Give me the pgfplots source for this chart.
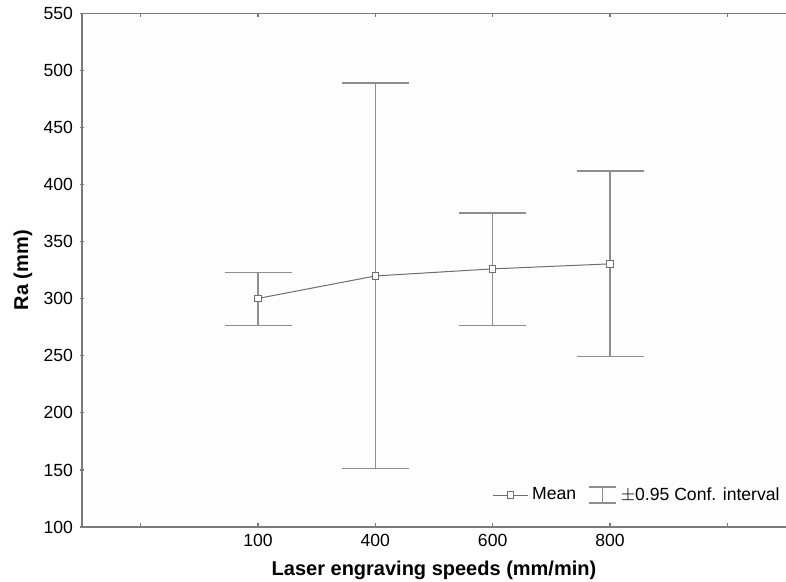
\documentclass[border=0pt]{standalone}
\usepackage{fontspec}
\setmainfont{Liberation Sans}
\usepackage{pgfplots}
\pgfplotsset{compat=1.18}
\definecolor{axGray}{HTML}{7A7A7A}
\definecolor{barGray}{HTML}{8E8E8E}
\definecolor{lineGray}{HTML}{6E6E6E}

\begin{document}
\begin{tikzpicture}
\begin{axis}[
  scale only axis,
  width=352pt, height=256.75pt,
  xmin=0.5, xmax=6.5,
  ymin=100, ymax=550,
  xtick={1,2,3,4,5,6},
  xticklabels={,100,400,600,800,},
  ytick={100,150,...,550},
  axis x line=box, axis y line=left,
  axis line style={-, axGray, line width=0.8pt},
  major tick length=2pt,
  tick style={axGray, line width=0.6pt},
  tick label style={font=\fontsize{8.8}{10}\selectfont},
  /pgf/number format/assume math mode=true,
  axis background/.style={fill=black!0.6},
  xlabel={\textbf{Laser engraving speeds (mm/min)}},
  ylabel={\textbf{Ra (mm)}},
  label style={font=\fontsize{8.8}{10}\selectfont},
  every axis x label/.style={at={(axis description cs:0.5,0)}, yshift=-21.5pt, anchor=center},
  every axis y label/.style={at={(axis description cs:0,0.5)}, xshift=-29.5pt, rotate=90, anchor=center},
  legend columns=2,
  legend style={draw=none, fill=none, font=\fontsize{8.8}{10}\selectfont,
    at={(rel axis cs:1,0.062)}, anchor=east,
    /tikz/every even column/.append style={column sep=4pt},
    inner sep=1pt},
]
\addplot[lineGray, line width=0.5pt, mark=square*,
  mark size=1.6pt, mark options={fill=white, draw=lineGray, line width=0.5pt},
  error bars/.cd, y dir=both, y explicit, error mark=|,
  error bar style={barGray, line width=0.8pt},
  error mark options={barGray, line width=0.8pt, mark size=16.75pt}]
  coordinates {
    (2,300.3) += (0,22.7)  -= (0,23.6)
    (3,320.0) += (0,169.0) -= (0,168.8)
    (4,326.2) += (0,49.2)  -= (0,49.5)
    (5,330.6) += (0,81.6)  -= (0,81.3)
  };
\addlegendentry{Mean}
\addlegendimage{legend image code/.code={
  \draw[barGray, line width=0.8pt] (0pt,-4pt) -- (13.5pt,-4pt);
  \draw[barGray, line width=0.8pt] (0pt,4pt) -- (13.5pt,4pt);
  \draw[barGray, line width=0.8pt] (6.75pt,-4pt) -- (6.75pt,4pt);}}
\addlegendentry{$\pm$0.95 Conf. interval}
\coordinate (sw) at (rel axis cs:0,0);
\coordinate (ne) at (rel axis cs:1,1);
\end{axis}
\path (sw) ++(-41pt,-27pt) coordinate (bba);
\path (ne) ++(0pt,6.75pt) coordinate (bbb);
\pgfresetboundingbox
\path (bba) rectangle (bbb);
\end{tikzpicture}
\end{document}
